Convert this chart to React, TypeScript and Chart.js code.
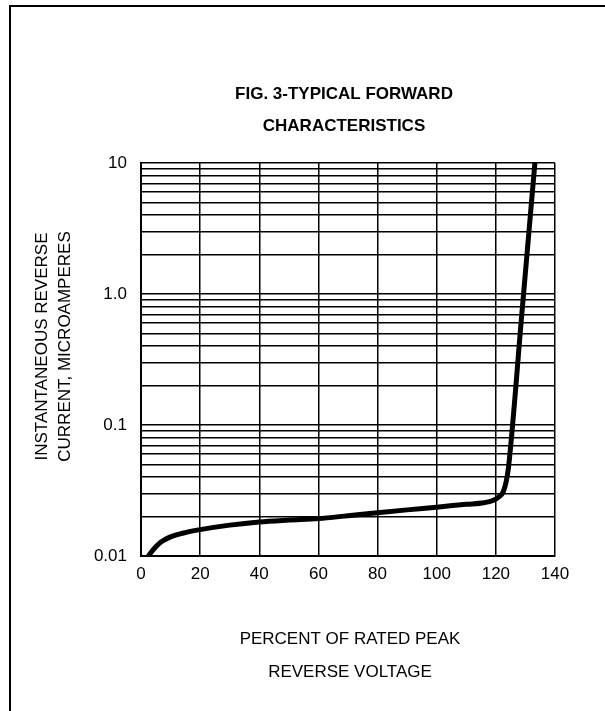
import React, { useEffect, useRef } from "react";
import { Chart, registerables } from "chart.js";

Chart.register(...registerables);

// ---- data ----
const percentVoltage = [2.5, 4, 6, 8, 10, 15, 20, 30, 40, 50, 60, 70, 80, 90, 100, 110, 116, 119, 121, 122.5, 123.5, 124.3, 128.7, 133.2];
const reverseCurrent = [0.01, 0.0111, 0.0124, 0.0133, 0.014, 0.0151, 0.0159, 0.0172, 0.0182, 0.0188, 0.0193, 0.0203, 0.0214, 0.0225, 0.0236, 0.0248, 0.0255, 0.0265, 0.0282, 0.031, 0.037, 0.048, 0.67, 10];

const xTicks = [0, 20, 40, 60, 80, 100, 120, 140];
const yDecades = [0.01, 0.1, 1, 10];
const yDecadeLabels = ["0.01", "0.1", "1.0", "10"];
const yMultipliers = [1, 2, 3, 4, 5, 6, 7, 8, 9];

const titleLines = ["FIG. 3-TYPICAL FORWARD", "CHARACTERISTICS"];
const xTitleLines = ["PERCENT OF RATED PEAK", "REVERSE VOLTAGE"];
const yTitleLines = ["INSTANTANEOUS REVERSE", "CURRENT, MICROAMPERES"];

const FONT = "'Liberation Sans', Arial, Helvetica, sans-serif";

function buildYTicks() {
  const out: { value: number }[] = [];
  for (let d = 0; d < yDecades.length - 1; d++) {
    for (const m of yMultipliers) {
      out.push({ value: +(yDecades[d] * m).toPrecision(6) });
    }
  }
  out.push({ value: yDecades[yDecades.length - 1] });
  return out;
}

function yLabel(v: number): string {
  for (let i = 0; i < yDecades.length; i++) {
    if (Math.abs(v - yDecades[i]) < yDecades[i] * 1e-6) return yDecadeLabels[i];
  }
  return "";
}

const decorPlugin = {
  id: "decor",
  afterDraw(chart: any) {
    const ctx = chart.ctx as CanvasRenderingContext2D;
    const area = chart.chartArea;
    ctx.save();
    // page frame (left and top rules)
    ctx.strokeStyle = "#000";
    ctx.lineWidth = 2;
    ctx.beginPath();
    ctx.moveTo(10, chart.height);
    ctx.lineTo(10, 6);
    ctx.lineTo(chart.width, 6);
    ctx.stroke();

    ctx.fillStyle = "#000";
    ctx.textAlign = "center";
    ctx.textBaseline = "middle";

    const cx = (area.left + area.right) / 2;
    ctx.font = `bold 17px ${FONT}`;
    titleLines.forEach((t, i) => ctx.fillText(t, cx - 4, 94 + i * 32));

    ctx.font = `17px ${FONT}`;
    xTitleLines.forEach((t, i) => ctx.fillText(t, cx + 2, 639 + i * 33));

    const cy = (area.top + area.bottom) / 2 - 13;
    ctx.translate(0, cy);
    ctx.rotate(-Math.PI / 2);
    yTitleLines.forEach((t, i) => ctx.fillText(t, 0, 42 + i * 23));
    ctx.restore();
  },
};

export default function App() {
  const ref = useRef<HTMLCanvasElement | null>(null);

  useEffect(() => {
    if (!ref.current) return;
    const chart = new Chart(ref.current, {
      type: "line",
      data: {
        datasets: [
          {
            data: percentVoltage.map((x, i) => ({ x, y: reverseCurrent[i] })),
            borderColor: "#000",
            borderWidth: 5,
            pointRadius: 0,
            fill: false,
            cubicInterpolationMode: "monotone",
            borderCapStyle: "round",
            borderJoinStyle: "round",
          },
        ],
      },
      options: {
        responsive: false,
        animation: false,
        events: [],
        layout: { padding: { left: 0, right: 50, top: 163, bottom: 115 } },
        plugins: {
          legend: { display: false },
          tooltip: { enabled: false },
          title: { display: false },
        },
        scales: {
          x: {
            type: "linear",
            min: 0,
            max: 140,
            afterBuildTicks: (s: any) => {
              s.ticks = xTicks.map((v) => ({ value: v }));
            },
            afterFit: (s: any) => {
              s.height = 40;
            },
            grid: { color: "#000", lineWidth: 1.5, drawTicks: false },
            border: { color: "#000", width: 2 },
            ticks: {
              color: "#000",
              font: { family: FONT, size: 17 },
              padding: 8,
              maxRotation: 0,
              autoSkip: false,
            },
          },
          y: {
            type: "logarithmic",
            min: 0.01,
            max: 10,
            afterBuildTicks: (s: any) => {
              s.ticks = buildYTicks();
            },
            afterFit: (s: any) => {
              s.width = 141;
            },
            grid: { color: "#000", lineWidth: 1.5, drawTicks: false },
            border: { color: "#000", width: 2 },
            ticks: {
              color: "#000",
              font: { family: FONT, size: 17 },
              padding: 14,
              autoSkip: false,
              callback: (v: any) => yLabel(Number(v)),
            },
          },
        },
      },
      plugins: [decorPlugin],
    } as any);
    return () => chart.destroy();
  }, []);

  return (
    <div style={{ position: "absolute", left: 0, top: 0, width: 605, height: 711, background: "#fff" }}>
      <canvas ref={ref} width={605} height={711} style={{ display: "block", width: 605, height: 711 }} />
    </div>
  );
}
